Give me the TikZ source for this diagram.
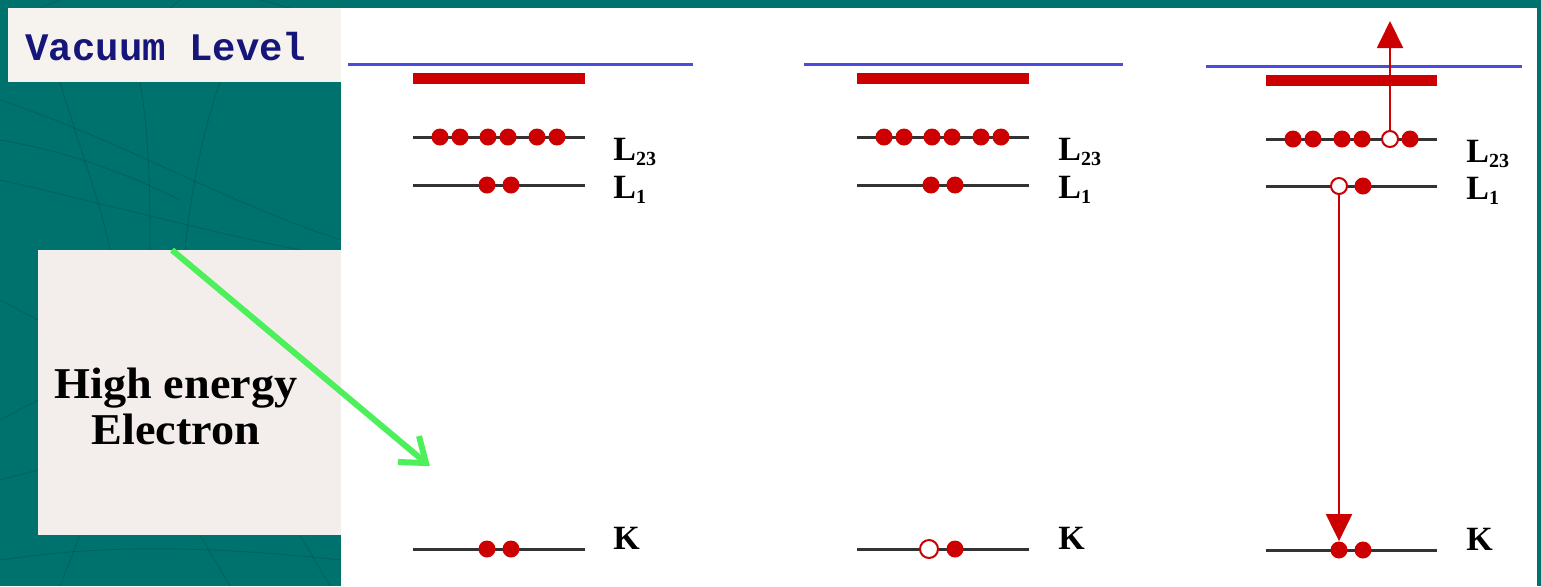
\documentclass[tikz,border=0pt]{standalone}
\usepackage{fontspec}
\usetikzlibrary{arrows.meta}
\newfontfamily\labfont{Liberation Serif}
\newfontfamily\vacfont{Liberation Mono}
\definecolor{teal0}{HTML}{00726D}
\definecolor{paperA}{HTML}{F6F3EE}
\definecolor{paperB}{HTML}{F3EEEB}
\definecolor{navy}{HTML}{15157A}
\definecolor{eRed}{HTML}{CC0000}
\definecolor{vacBlue}{HTML}{4B4BE0}
\definecolor{lvlGray}{HTML}{333333}
\definecolor{beamGreen}{HTML}{4DF05A}
\tikzset{
  electron/.style={circle,fill=eRed,inner sep=0pt,minimum size=8.5pt},
  hole/.style={circle,draw=eRed,fill=white,line width=1pt,inner sep=0pt,minimum size=8pt},
  level/.style={draw=lvlGray,line width=1.5pt},
  vacline/.style={draw=vacBlue,line width=1.5pt},
  band/.style={fill=eRed},
  lvllabel/.style={anchor=base west,inner sep=0pt,font=\labfont\bfseries\fontsize{17}{20}\selectfont},
  transition/.style={draw=eRed,line width=1pt,-{Triangle[length=13.5pt,width=13pt]}},
  beam/.style={draw=beamGreen,line width=3pt},
  texture/.style={draw=black!70!teal0,line width=0.5pt,opacity=0.18}
}
\newcommand{\subdig}[1]{\raisebox{-2.5pt}{\fontsize{10}{10}\selectfont #1}}
\begin{document}
\begin{tikzpicture}[x=0.5pt,y=-0.5pt]
\fill[teal0] (0,0) rectangle (1541,586);
\useasboundingbox (0,0) rectangle (1541,586);
% faint background texture lines
\begin{scope}[texture]
\draw (0,100) .. controls (120,140) and (220,200) .. (341,240);
\draw (0,180) .. controls (90,200) and (200,230) .. (300,250);
\draw (60,82) .. controls (80,150) and (100,200) .. (110,250);
\draw (220,82) .. controls (200,140) and (190,200) .. (185,250);
\draw (0,140) .. controls (60,150) and (120,170) .. (180,200);
\draw (140,82) .. controls (150,140) and (150,200) .. (150,250);
\draw (0,560) .. controls (100,545) and (200,545) .. (341,560);
\draw (0,480) -- (38,470);
\draw (0,300) -- (38,320);
\draw (0,420) -- (38,400);
\draw (80,535) -- (60,586);
\draw (200,535) -- (230,586);
\draw (300,535) -- (330,586);
\draw (60,0) -- (40,8);
\draw (180,0) -- (170,8);
\draw (260,0) -- (290,8);
\end{scope}
% white panel
\fill[white] (341,8) rectangle (1537,586);
% label boxes
\fill[paperA] (8,8) rectangle (341,82);
\node[font=\vacfont\bfseries\fontsize{19.5}{22}\selectfont,text=navy,inner sep=0pt] (vac) at (166,47) {Vacuum Level};
\fill[paperB] (38,250) rectangle (341,535);
\node[font=\labfont\bfseries\fontsize{22}{23}\selectfont,align=center,inner sep=0pt,xscale=1.05] (hee) at (176,406) {High energy\\Electron};
% incoming electron beam
\coordinate (bstart) at (172,250);
\coordinate (btip) at (426,463);
\coordinate (bbarbA) at (419,436);
\coordinate (bbarbB) at (398,462);
\draw[beam] (bstart) -- (btip);
\draw[beam,line join=miter] (bbarbA) -- (btip) -- (bbarbB);

% ---------- panel 1 ----------
\draw[vacline] (348,64) -- (693,64);
\fill[band] (413,73) rectangle (585,84);
\draw[level] (413,137) -- (585,137);
\draw[level] (413,185) -- (585,185);
\draw[level] (413,549) -- (585,549);
\foreach \x [count=\i] in {440,460,488,508,537,557} \node[electron] (pa23\i) at (\x,137) {};
\node[electron] (pa1a) at (487,185) {};
\node[electron] (pa1b) at (511,185) {};
\node[electron] (paKa) at (487,549) {};
\node[electron] (paKb) at (511,549) {};
\node[lvllabel] (laL23) at (613,160) {L\subdig{23}};
\node[lvllabel] (laL1) at (613,198) {L\subdig{1}};
\node[lvllabel] (laK) at (613,549) {K};

% ---------- panel 2 ----------
\draw[vacline] (804,64) -- (1123,64);
\fill[band] (857,73) rectangle (1029,84);
\draw[level] (857,137) -- (1029,137);
\draw[level] (857,185) -- (1029,185);
\draw[level] (857,549) -- (1029,549);
\foreach \x [count=\i] in {884,904,932,952,981,1001} \node[electron] (pb23\i) at (\x,137) {};
\node[electron] (pb1a) at (931,185) {};
\node[electron] (pb1b) at (955,185) {};
\node[hole,minimum size=9pt] (pbKa) at (929,549) {};
\node[electron] (pbKb) at (955,549) {};
\node[lvllabel] (lbL23) at (1058,160) {L\subdig{23}};
\node[lvllabel] (lbL1) at (1058,198) {L\subdig{1}};
\node[lvllabel] (lbK) at (1058,549) {K};

% ---------- panel 3 ----------
\draw[vacline] (1206,66) -- (1522,66);
\fill[band] (1266,75) rectangle (1437,86);
\draw[level] (1266,139) -- (1437,139);
\draw[level] (1266,186) -- (1437,186);
\draw[level] (1266,550) -- (1437,550);
\foreach \x [count=\i] in {1293,1313,1342,1362} \node[electron] (pc23\i) at (\x,139) {};
\node[hole] (pc23h) at (1390,139) {};
\node[electron] (pc236) at (1410,139) {};
\node[hole] (pc1h) at (1339,186) {};
\node[electron] (pc1b) at (1363,186) {};
\node[electron] (pcKa) at (1339,550) {};
\node[electron] (pcKb) at (1363,550) {};
\node[lvllabel] (lcL23) at (1466,162) {L\subdig{23}};
\node[lvllabel] (lcL1) at (1466,199) {L\subdig{1}};
\node[lvllabel] (lcK) at (1466,550) {K};
\coordinate (auger) at (1390,21);
\draw[transition] (pc23h.north) -- (auger);
\draw[transition] (pc1h.south) -- (pcKa.north);
\end{tikzpicture}
\end{document}
